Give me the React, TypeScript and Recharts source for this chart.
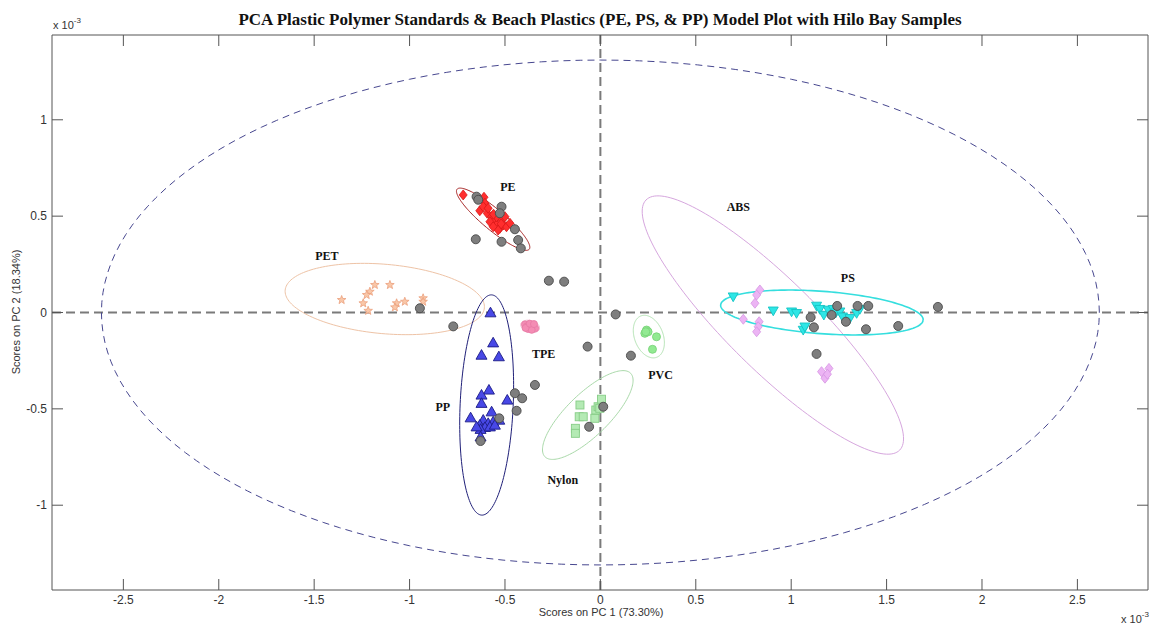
import React from 'react';
import { ScatterChart, Scatter, XAxis, YAxis, ReferenceLine } from 'recharts';

const W = 1151;
const H = 625;

const xTicks = [-2.5, -2, -1.5, -1, -0.5, 0, 0.5, 1, 1.5, 2, 2.5];
const yTicks = [-1, -0.5, 0, 0.5, 1];
const xDomain: [number, number] = [-2.874, 2.87];
const yDomain: [number, number] = [-1.44, 1.44];

// [x, y] scores (units of 1e-3)
const pePoints = [
  [-0.719, 0.61], [-0.61, 0.598], [-0.605, 0.567], [-0.632, 0.528], [-0.593, 0.515], [-0.614, 0.549],
  [-0.588, 0.541], [-0.57, 0.497], [-0.553, 0.48], [-0.579, 0.471], [-0.544, 0.454], [-0.527, 0.437],
  [-0.509, 0.454], [-0.492, 0.445], [-0.536, 0.428], [-0.518, 0.48], [-0.562, 0.445], [-0.5, 0.497],
  [-0.474, 0.463], [-0.544, 0.497], [-0.56, 0.51], [-0.52, 0.46],
];
const petPoints = [
  [-1.182, 0.143], [-1.103, 0.143], [-1.208, 0.108], [-1.225, 0.091], [-1.356, 0.065], [-1.243, 0.048],
  [-1.217, 0.009], [-1.025, 0.056], [-1.068, 0.048], [-1.077, 0.027], [-0.929, 0.074], [-0.929, 0.056],
];
const ppPoints = [
  [-0.576, -0.001], [-0.562, -0.157], [-0.623, -0.221], [-0.532, -0.229], [-0.584, -0.402], [-0.623, -0.428],
  [-0.623, -0.471], [-0.488, -0.454], [-0.68, -0.546], [-0.57, -0.515], [-0.614, -0.558], [-0.632, -0.584],
  [-0.588, -0.575], [-0.562, -0.567], [-0.53, -0.558], [-0.605, -0.596], [-0.579, -0.593], [-0.628, -0.606],
  [-0.628, -0.645], [-0.553, -0.584], [-0.649, -0.593],
];
const tpePoints = [
  [-0.395, -0.062], [-0.385, -0.072], [-0.375, -0.066], [-0.365, -0.075], [-0.352, -0.07], [-0.342, -0.082],
  [-0.38, -0.085], [-0.36, -0.09], [-0.392, -0.08], [-0.37, -0.058], [-0.348, -0.06],
];
const nylonPoints = [
  [-0.107, -0.48], [-0.111, -0.541], [-0.09, -0.541], [-0.131, -0.601], [-0.131, -0.627], [-0.029, -0.549],
  [-0.024, -0.506], [-0.012, -0.489], [0.006, -0.45], [-0.003, -0.497],
];
const pvcPoints = [
  [0.242, -0.091], [0.233, -0.108], [0.25, -0.1], [0.294, -0.126], [0.273, -0.191], [0.238, -0.1],
];
const absPoints = [
  [0.836, 0.117], [0.819, 0.091], [0.81, 0.048], [0.749, -0.035], [0.832, -0.048], [0.827, -0.074],
  [0.819, -0.1], [1.159, -0.307], [1.198, -0.29], [1.177, -0.341], [1.19, -0.32],
];
const psPoints = [
  [0.696, 0.082], [0.906, 0.009], [1.002, 0.004], [1.028, -0.004], [1.063, -0.091], [1.133, 0.034],
  [1.15, 0.017], [1.171, -0.013], [1.194, 0.013], [1.22, 0.017], [1.234, -0.001], [1.255, 0.004],
  [1.269, -0.022], [1.308, -0.03], [1.343, -0.004], [1.36, 0.017], [1.072, -0.074],
];
const hiloPoints = [
  [-0.649, 0.601], [-0.64, 0.585], [-0.518, 0.549], [-0.527, 0.515], [-0.448, 0.432], [-0.653, 0.38],
  [-0.518, 0.367], [-0.431, 0.376], [-0.417, 0.333], [-0.27, 0.165], [-0.19, 0.16], [-0.946, 0.022],
  [-0.771, -0.072], [-0.628, -0.667], [-0.53, -0.549], [-0.448, -0.419], [-0.41, -0.445], [-0.439, -0.51],
  [-0.343, -0.376], [-0.067, -0.177], [0.08, -0.01], [0.16, -0.224], [0.015, -0.489], [-0.059, -0.593],
  [1.241, 0.034], [1.348, 0.034], [1.404, 0.034], [1.102, -0.025], [1.119, -0.077], [1.287, -0.048],
  [1.392, -0.087], [1.561, -0.07], [1.133, -0.215], [1.212, -0.013], [1.769, 0.029],
];

// ellipse params: [cx, cy, semi-major, semi-minor, angle deg]
const bigEllipse = [0, 0, 2.615, 1.31, 0];
const peEllipse = [-0.562, 0.484, 0.245, 0.055, -39.5];
const petEllipse = [-1.13, 0.07, 0.524, 0.18, -5];
const ppEllipse = [-0.596, -0.48, 0.572, 0.139, 87.4];
const tpeEllipse = [-0.368, -0.072, 0.05, 0.03, -15];
const nylonEllipse = [-0.066, -0.532, 0.312, 0.11, 43.9];
const pvcEllipse = [0.254, -0.125, 0.115, 0.075, -68.5];
const absEllipse = [0.904, -0.065, 0.929, 0.235, -44.3];
const psEllipse = [1.161, 0, 0.532, 0.11, -4.2];

const labelNames = ['PE', 'PET', 'ABS', 'PS', 'TPE', 'PP', 'PVC', 'Nylon'];
const labelX = [-0.485, -1.433, 0.723, 1.297, -0.297, -0.826, 0.315, -0.197];
const labelY = [0.651, 0.293, 0.545, 0.18, -0.215, -0.489, -0.322, -0.869];

const toData = (pts: number[][]) => pts.map(([x, y]) => ({ x, y }));
const labelData = labelNames.map((name, i) => ({ x: labelX[i], y: labelY[i], name }));

function outline(p: number[]) {
  const [cx, cy, a, b, deg] = p;
  const t = (deg * Math.PI) / 180;
  const out: { x: number; y: number }[] = [];
  const n = 160;
  for (let i = 0; i <= n; i++) {
    const s = (2 * Math.PI * i) / n;
    const u = a * Math.cos(s);
    const v = b * Math.sin(s);
    out.push({ x: cx + u * Math.cos(t) - v * Math.sin(t), y: cy + u * Math.sin(t) + v * Math.cos(t) });
  }
  return out;
}

const noShape = () => <g />;

const diamond = (fill: string, stroke: string, w: number, h: number) => (p: any) => (
  <path d={`M${p.cx},${p.cy - h}L${p.cx + w},${p.cy}L${p.cx},${p.cy + h}L${p.cx - w},${p.cy}Z`} fill={fill} stroke={stroke} strokeWidth={0.8} />
);
const triUp = (fill: string, stroke: string, s: number) => (p: any) => (
  <path d={`M${p.cx},${p.cy - s}L${p.cx + s},${p.cy + s * 0.75}L${p.cx - s},${p.cy + s * 0.75}Z`} fill={fill} stroke={stroke} strokeWidth={0.9} />
);
const triDown = (fill: string, stroke: string, s: number) => (p: any) => (
  <path d={`M${p.cx},${p.cy + s}L${p.cx + s},${p.cy - s * 0.75}L${p.cx - s},${p.cy - s * 0.75}Z`} fill={fill} stroke={stroke} strokeWidth={0.9} />
);
const square = (fill: string, stroke: string, s: number) => (p: any) => (
  <rect x={p.cx - s} y={p.cy - s} width={2 * s} height={2 * s} fill={fill} stroke={stroke} strokeWidth={0.9} />
);
const circle = (fill: string, stroke: string, r: number) => (p: any) => (
  <circle cx={p.cx} cy={p.cy} r={r} fill={fill} stroke={stroke} strokeWidth={0.9} />
);
const star = (fill: string, stroke: string, r: number) => (p: any) => {
  let d = '';
  for (let i = 0; i < 10; i++) {
    const rr = i % 2 === 0 ? r : r * 0.42;
    const ang = -Math.PI / 2 + (i * Math.PI) / 5;
    d += `${i === 0 ? 'M' : 'L'}${p.cx + rr * Math.cos(ang)},${p.cy + rr * Math.sin(ang)}`;
  }
  return <path d={d + 'Z'} fill={fill} stroke={stroke} strokeWidth={0.8} />;
};
const labelShape = (p: any) => (
  <text x={p.cx} y={p.cy} textAnchor="middle" dominantBaseline="central" fontFamily="'Liberation Serif', 'Times New Roman', serif" fontWeight="bold" fontSize={12} fill="#111">
    {p.payload.name}
  </text>
);

const ellipseSeries = [
  { p: bigEllipse, stroke: '#47478f', dash: '7 5', w: 1 },
  { p: petEllipse, stroke: '#eec3a6', dash: undefined, w: 1 },
  { p: peEllipse, stroke: '#a52020', dash: undefined, w: 1 },
  { p: ppEllipse, stroke: '#1f1f78', dash: undefined, w: 1 },
  { p: tpeEllipse, stroke: '#f2a6c4', dash: undefined, w: 1 },
  { p: nylonEllipse, stroke: '#a9d9a9', dash: undefined, w: 1 },
  { p: pvcEllipse, stroke: '#b3e3b3', dash: undefined, w: 1 },
  { p: absEllipse, stroke: '#d6a6de', dash: undefined, w: 1 },
  { p: psEllipse, stroke: '#35dede', dash: undefined, w: 1.6 },
];

const tickStyle = { fontFamily: "'Liberation Sans', Arial, sans-serif", fontSize: 12, fill: '#333' };
const axisLineStyle = { stroke: '#555', strokeWidth: 1 };
const fmt = (v: number) => String(v);

export default function App() {
  return (
    <div style={{ position: 'absolute', left: 0, top: 0, width: W, height: H, background: '#fff' }}>
      <ScatterChart width={W} height={H} margin={{ top: 30, right: 0, bottom: 0, left: 0 }}>
        <XAxis
          xAxisId={0}
          type="number"
          dataKey="x"
          domain={xDomain}
          ticks={xTicks}
          allowDataOverflow
          height={35}
          tickSize={-11}
          tickMargin={16}
          tickFormatter={fmt}
          tick={tickStyle}
          axisLine={axisLineStyle}
          tickLine={axisLineStyle}
        />
        <XAxis
          xAxisId="top"
          orientation="top"
          type="number"
          dataKey="x"
          domain={xDomain}
          ticks={xTicks}
          allowDataOverflow
          height={5}
          tickSize={-11}
          tickFormatter={() => ''}
          axisLine={axisLineStyle}
          tickLine={axisLineStyle}
        />
        <YAxis
          yAxisId={0}
          type="number"
          dataKey="y"
          domain={yDomain}
          ticks={yTicks}
          allowDataOverflow
          width={52}
          tickSize={-11}
          tickMargin={16}
          tickFormatter={fmt}
          tick={tickStyle}
          axisLine={axisLineStyle}
          tickLine={axisLineStyle}
        />
        <YAxis
          yAxisId="right"
          orientation="right"
          type="number"
          dataKey="y"
          domain={yDomain}
          ticks={yTicks}
          allowDataOverflow
          width={3}
          tickSize={-11}
          tickFormatter={() => ''}
          axisLine={axisLineStyle}
          tickLine={axisLineStyle}
        />
        <ReferenceLine x={0} stroke="#7a7a7a" strokeWidth={2} strokeDasharray="9 5" />
        <ReferenceLine y={0} stroke="#7a7a7a" strokeWidth={2} strokeDasharray="9 5" />
        {ellipseSeries.map((e, i) => (
          <Scatter
            key={'e' + i}
            data={outline(e.p)}
            line={{ stroke: e.stroke, strokeWidth: e.w, strokeDasharray: e.dash }}
            lineType="joint"
            shape={noShape}
            isAnimationActive={false}
          />
        ))}
        <Scatter data={toData(petPoints)} shape={star('#f9c7a8', '#eba07c', 4.5)} isAnimationActive={false} />
        <Scatter data={toData(pePoints)} shape={diamond('#ff2e2e', '#d81818', 4, 5)} isAnimationActive={false} />
        <Scatter data={toData(ppPoints)} shape={triUp('#4848e6', '#1c1c86', 5.5)} isAnimationActive={false} />
        <Scatter data={toData(tpePoints)} shape={circle('#f48cb4', '#e87ca6', 3.5)} isAnimationActive={false} />
        <Scatter data={toData(nylonPoints)} shape={square('#b4eab4', '#86cc86', 4)} isAnimationActive={false} />
        <Scatter data={toData(pvcPoints)} shape={circle('#92ea92', '#7ad47a', 4)} isAnimationActive={false} />
        <Scatter data={toData(absPoints)} shape={diamond('#ecb4f4', '#d696e2', 4, 5)} isAnimationActive={false} />
        <Scatter data={toData(psPoints)} shape={triDown('#2ee6e6', '#14c4c4', 5)} isAnimationActive={false} />
        <Scatter data={toData(hiloPoints)} shape={circle('#7e7e7e', '#4a4a4a', 4.5)} isAnimationActive={false} />
        <Scatter data={labelData} shape={labelShape} isAnimationActive={false} />
      </ScatterChart>
      <svg width={W} height={H} style={{ position: 'absolute', left: 0, top: 0, pointerEvents: 'none' }}>
        <text x={600} y={25} textAnchor="middle" fontFamily="'Liberation Serif', 'Times New Roman', serif" fontWeight="bold" fontSize={17} fill="#111">
          PCA Plastic Polymer Standards &amp; Beach Plastics (PE, PS, &amp; PP) Model Plot with Hilo Bay Samples
        </text>
        <text x={53} y={29} fontFamily="'Liberation Sans', Arial, sans-serif" fontSize={11} fill="#333">
          x 10<tspan dy={-6} fontSize={8}>-3</tspan>
        </text>
        <text x={1121} y={623} fontFamily="'Liberation Sans', Arial, sans-serif" fontSize={11} fill="#333">
          x 10<tspan dy={-6} fontSize={8}>-3</tspan>
        </text>
        <text x={601} y={616} textAnchor="middle" fontFamily="'Liberation Sans', Arial, sans-serif" fontSize={11} fill="#333">
          Scores on PC 1 (73.30%)
        </text>
        <text x={20} y={312} textAnchor="middle" transform="rotate(-90 20 312)" fontFamily="'Liberation Sans', Arial, sans-serif" fontSize={11} fill="#333">
          Scores on PC 2 (18.34%)
        </text>
      </svg>
    </div>
  );
}
